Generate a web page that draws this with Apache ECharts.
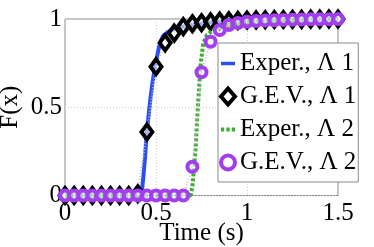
<!DOCTYPE html>
<html><head><meta charset="utf-8">
<script src="https://cdn.jsdelivr.net/npm/echarts@6/dist/echarts.min.js"></script>
<style>html,body{margin:0;padding:0;background:#fff}#c{width:374px;height:247px}</style>
</head><body><div id="c"></div>
<script>
// G.E.V. fits sampled every 0.05 s
var gevTime = [0,0.05,0.1,0.15,0.2,0.25,0.3,0.35,0.4,0.45,0.5,0.55,0.6,0.65,0.7,0.75,0.8,0.85,0.9,0.95,1.0,1.05,1.1,1.15,1.2,1.25,1.3,1.35,1.4,1.45,1.5];
var gev1 = [0,0,0,0,0,0,0,0,0.01,0.36,0.73,0.865,0.92,0.957,0.973,0.979,0.984,0.988,0.99,0.992,0.994,0.995,0.996,0.997,0.997,0.998,0.998,0.999,0.999,1,1];
var gev2 = [0,0,0,0,0,0,0,0,0,0,0,0,0,0,0.163,0.698,0.871,0.938,0.966,0.977,0.984,0.988,0.991,0.993,0.995,0.996,0.997,0.998,0.999,0.999,1];
// Experimental CDFs
var exp1Time = [0,0.42,0.43,0.44,0.45,0.46,0.47,0.48,0.49,0.5,0.51,0.52,0.53,0.54,0.56,0.58,0.62,0.7,0.8,0.9,1.0,1.2,1.5];
var exp1Val  = [0,0,0.1,0.22,0.37,0.46,0.555,0.635,0.7,0.755,0.81,0.855,0.885,0.905,0.922,0.935,0.95,0.968,0.98,0.987,0.992,0.996,1];
var exp2Time = [0,0.69,0.7,0.71,0.717,0.726,0.735,0.744,0.759,0.78,0.82,0.9,1.0,1.2,1.5];
var exp2Val  = [0,0,0.05,0.17,0.26,0.43,0.58,0.73,0.86,0.91,0.94,0.965,0.98,0.992,1];
var xTicks = ['0','0.5','1','1.5'];
var yTicks = ['0','0.5','1'];
var names = ['Exper., \u039b 1','G.E.V., \u039b 1','Exper., \u039b 2','G.E.V., \u039b 2'];

function zip(a,b){return a.map(function(v,i){return [v,b[i]];});}
var serif = 'Liberation Serif';
var blue='#2b4ff0', green='#38b02a', purple='#a33ef0';

var chart = echarts.init(document.getElementById('c'), null, {renderer:'canvas'});
chart.setOption({
  animation:false,
  grid:{left:65,top:19,width:273,bottom:51.5,outerBoundsMode:'none',containLabel:false,
    show:true,borderColor:'#8a8a8a',borderWidth:1,backgroundColor:'transparent'},
  xAxis:{type:'value',min:0,max:1.5,interval:0.5,
    name:'Time (s)',nameLocation:'middle',nameGap:25,nameMoveOverlap:false,
    nameTextStyle:{fontFamily:serif,fontSize:25,color:'#000',lineHeight:25},
    axisLine:{show:false},axisTick:{show:false},
    axisLabel:{margin:5,fontFamily:serif,fontSize:25,lineHeight:25,color:'#000',formatter:function(v){return xTicks[Math.round(v/0.5)];}},
    splitLine:{show:true,lineStyle:{color:'#cfcfcf',type:[1,2],width:1}}},
  yAxis:{type:'value',min:0,max:1,interval:0.5,
    name:'F(x)',nameLocation:'middle',nameGap:42,nameRotate:90,nameMoveOverlap:false,
    nameTextStyle:{fontFamily:serif,fontSize:25,color:'#000',lineHeight:25},
    axisLine:{show:false},axisTick:{show:false},
    axisLabel:{margin:3,fontFamily:serif,fontSize:25,lineHeight:25,color:'#000',formatter:function(v){return yTicks[Math.round(v/0.5)];}},
    splitLine:{show:true,lineStyle:{color:'#cfcfcf',type:[1,2],width:1}}},
  legend:{orient:'vertical',left:218,top:43,
    backgroundColor:'#fff',borderColor:'#8a8a8a',borderWidth:1,borderRadius:0,
    padding:[8,2,7,1],itemGap:8,itemWidth:14,itemHeight:16,
    textStyle:{fontFamily:serif,fontSize:25,color:'#000',lineHeight:25},
    data:[
      {name:names[0],icon:'path://M0,0h14v3.5h-14z',itemStyle:{color:blue}},
      {name:names[1],icon:'diamond',itemStyle:{color:'#fff',borderColor:'#000',borderWidth:4}},
      {name:names[2],icon:'path://M0,0h3v3.5h-3zM5,0h3v3.5h-3zM10,0h3v3.5h-3z',itemStyle:{color:green}},
      {name:names[3],icon:'circle',itemStyle:{color:'#fff',borderColor:purple,borderWidth:4}}
    ]},
  series:[
    {name:names[0],type:'line',data:zip(exp1Time,exp1Val),symbol:'none',clip:false,
      lineStyle:{color:blue,width:4},itemStyle:{color:blue},z:2},
    {name:names[1],type:'line',data:zip(gevTime,gev1),symbol:'diamond',symbolSize:[11,15],clip:false,
      lineStyle:{color:'#b8b8b8',width:2,type:[1,2]},
      itemStyle:{color:'rgba(255,255,255,0.5)',borderColor:'#000',borderWidth:4},z:3},
    {name:names[2],type:'line',data:zip(exp2Time,exp2Val),symbol:'none',clip:false,
      lineStyle:{color:green,width:4,type:[3,2]},itemStyle:{color:green},z:4},
    {name:names[3],type:'line',data:zip(gevTime,gev2),symbol:'circle',symbolSize:10,clip:false,
      lineStyle:{color:'#e7b0f5',width:2,type:[1,2]},
      itemStyle:{color:'rgba(255,255,255,0.5)',borderColor:purple,borderWidth:4},z:5}
  ]
});
</script></body></html>
